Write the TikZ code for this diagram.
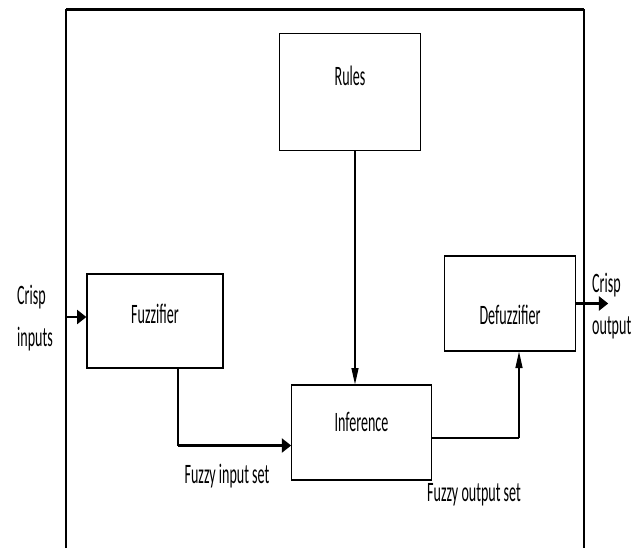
\documentclass[tikz,border=0pt]{standalone}
\usepackage{fontspec}
\setmainfont{Carlito}[FakeStretch=0.5]
\usetikzlibrary{arrows.meta,calc}

\tikzset{
  block/.style = {draw, line width=1.1pt, minimum width=#1},
  flow/.style = {line width=1pt},
  bigflow/.style = {line width=2.2pt, -{Triangle[length=8pt,width=12pt]}},
  thinflow/.style = {line width=1pt, -{Triangle[length=14pt,width=6pt]}},
  txt/.style = {font=\fontsize{24}{36}\selectfont, inner sep=0pt}
}

\begin{document}
\begin{tikzpicture}[x=0.03cm, y=-0.03cm, every node/.style={txt}]
  \useasboundingbox (0,0) rectangle (638,548);
  % frame
  \draw[line width=1pt] (66,548) -- (66,9.5) -- (584,9.5) -- (584,548);
  \draw[line width=2pt] (66,9.5) -- (584,9.5);

  % blocks
  \node[block=120, minimum height=100, label={[yshift=14]center:Rules}]
    (rules) at (350,92) {};
  \node[block=116, minimum height=80, label={[yshift=6]center:Fuzzifier}]
    (fuzz) at (155,321) {};
  \node[block=119, minimum height=81, label={[yshift=9]center:Inference}]
    (inf) at (361.5,432.5) {};
  \node[block=112, minimum height=81, label={[yshift=-10]center:Defuzzifier}]
    (defuzz) at (510,303.5) {};

  % connectors
  \coordinate (in) at (66,317);
  \draw[bigflow] (in) -- (in -| fuzz.west);
  \coordinate (fz) at ($(fuzz.south)+(23,0)$);
  \draw[flow] (fz) -- ++(0,77) coordinate (fzb);
  \draw[bigflow] (fzb) -- (fzb -| inf.west);
  \coordinate (ru) at ($(rules.south)+(5,0)$);
  \draw[thinflow] (ru) -- (ru |- inf.north);
  \coordinate (ie) at ($(inf.east)+(0,5.5)$);
  \coordinate (ds) at ($(defuzz.south)+(9,0)$);
  \draw[line width=1.8pt] (ie) -- (ie -| ds);
  \draw[thinflow] (ie -| ds) -- (ds);
  \draw[bigflow] (defuzz.east) -- ++(32,0) coordinate (out);

  % labels
  \node[align=left, anchor=west] (crispin) at (17,318) {Crisp\\inputs};
  \node[align=left, anchor=west] (crispout) at (592,306) {Crisp\\output};
  \node (fis) at (227,476) {Fuzzy input set};
  \node (fos) at (474,495) {Fuzzy output set};
\end{tikzpicture}
\end{document}
